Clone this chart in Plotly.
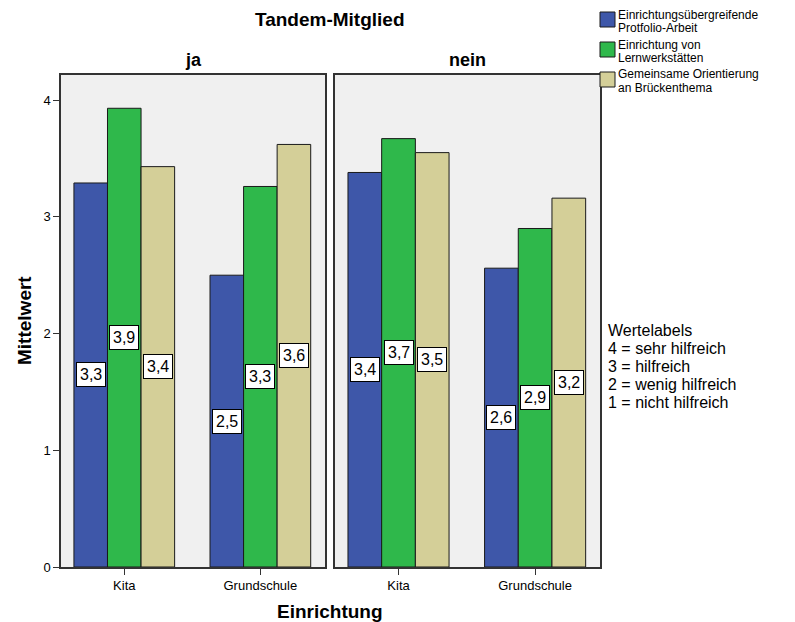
import plotly.graph_objects as go

# Mean ratings per facility type, split by tandem membership
categories = ["Kita", "Grundschule"]
groups = ["ja", "nein"]
series_names = [
    ["Einrichtungsübergreifende", "Protfolio-Arbeit"],
    ["Einrichtung von", "Lernwerkstätten"],
    ["Gemeinsame Orientierung", "an Brückenthema"],
]
colors = ["#3e57a9", "#2fb84b", "#d4cf98"]

# values[group][series] -> [Kita, Grundschule]
values_ja = [
    [3.29, 2.50],
    [3.93, 3.26],
    [3.43, 3.62],
]
values_nein = [
    [3.38, 2.56],
    [3.67, 2.90],
    [3.55, 3.16],
]
values = {"ja": values_ja, "nein": values_nein}

value_labels_title = "Wertelabels"
value_labels = ["4 = sehr hilfreich", "3 = hilfreich", "2 = wenig hilfreich", "1 = nicht hilfreich"]

FONT = "Liberation Sans, Arial, sans-serif"
W, H = 795, 622
fig = go.Figure()

bargap = 0.26
bar_w = (1 - bargap) / 3


def py(px):
    """Pixel row from the top -> paper y."""
    return 1 - px / H


annotations = []
shapes = []
for gi, g in enumerate(groups):
    xa = "x" if gi == 0 else "x2"
    ya = "y" if gi == 0 else "y2"
    for si, name in enumerate(series_names):
        vals = values[g][si]
        fig.add_trace(go.Bar(
            x=categories, y=vals, name=" ".join(name),
            marker=dict(color=colors[si], line=dict(color="#1a1a1a", width=1)),
            xaxis=xa, yaxis=ya, showlegend=False,
        ))
        # value boxes centred at half the bar height
        for ci, v in enumerate(vals):
            annotations.append(dict(
                x=ci + (si - 1) * bar_w, y=v / 2,
                xref=xa, yref=ya,
                text=f"{v:.1f}".replace(".", ","), showarrow=False,
                font=dict(family=FONT, size=16, color="black"),
                bgcolor="white", bordercolor="black", borderwidth=1, borderpad=3,
            ))

# legend block in the top-right corner: colour swatch plus two text lines per series
for si, (name, col) in enumerate(zip(series_names, colors)):
    top = 12 + 30 * si
    shapes.append(dict(
        type="rect", xref="paper", yref="paper",
        x0=600 / W, x1=615 / W, y0=py(top + 15), y1=py(top),
        fillcolor=col, line=dict(color="#1a1a1a", width=1),
    ))
    for li, line in enumerate(name):
        annotations.append(dict(
            x=617 / W, y=py(top + 2.5 + 13.5 * li), xref="paper", yref="paper",
            xanchor="left", yanchor="middle", text=line, showarrow=False,
            font=dict(family=FONT, size=12, color="black"), borderpad=0,
        ))

y_dom = [py(567), py(75)]
x1_dom = [61 / W, 325 / W]
x2_dom = [335 / W, 600 / W]

axis_common = dict(
    showline=True, linecolor="#333333", linewidth=1.5, mirror=True,
    ticks="outside", ticklen=6, tickcolor="#333333",
    tickfont=dict(family=FONT, size=13, color="black"),
    showgrid=False, zeroline=False, automargin=False,
)

fig.update_layout(
    width=W, height=H,
    margin=dict(l=0, r=0, t=0, b=0, pad=0, autoexpand=False),
    paper_bgcolor="white", plot_bgcolor="#f0f0f0",
    barmode="group", bargap=bargap, bargroupgap=0,
    xaxis=dict(domain=x1_dom, range=[-0.465, 1.475], anchor="y", **axis_common),
    xaxis2=dict(domain=x2_dom, range=[-0.465, 1.475], anchor="y2", **axis_common),
    yaxis=dict(domain=y_dom, range=[0, 4.215], anchor="x", tickvals=[0, 1, 2, 3, 4], **axis_common),
    yaxis2=dict(domain=y_dom, range=[0, 4.215], anchor="x2", showticklabels=False,
                showline=True, linecolor="#333333", linewidth=1.5, mirror=True,
                ticks="", showgrid=False, zeroline=False, automargin=False),
    showlegend=False,
)

title_font = dict(family=FONT, size=19, color="black")
annotations += [
    dict(x=330 / W, y=py(19), text="<b>Tandem-Mitglied</b>", font=title_font),
    dict(x=193 / W, y=py(60), text="<b>ja</b>", font=dict(family=FONT, size=18, color="black")),
    dict(x=467 / W, y=py(60), text="<b>nein</b>", font=dict(family=FONT, size=18, color="black")),
    dict(x=330 / W, y=py(611), text="<b>Einrichtung</b>", font=title_font),
    dict(x=25 / W, y=py(321), text="<b>Mittelwert</b>", textangle=-90, font=title_font),
]
for a in annotations[-5:]:
    a.update(xref="paper", yref="paper", xanchor="center", yanchor="middle", showarrow=False)

for li, line in enumerate([value_labels_title] + value_labels):
    annotations.append(dict(
        x=607 / W, y=py(330 + 18 * li), xref="paper", yref="paper",
        xanchor="left", yanchor="middle", text=line, showarrow=False,
        font=dict(family=FONT, size=16, color="black"), borderpad=0,
    ))
fig.update_layout(annotations=annotations, shapes=shapes)

fig.write_html("out.html")
